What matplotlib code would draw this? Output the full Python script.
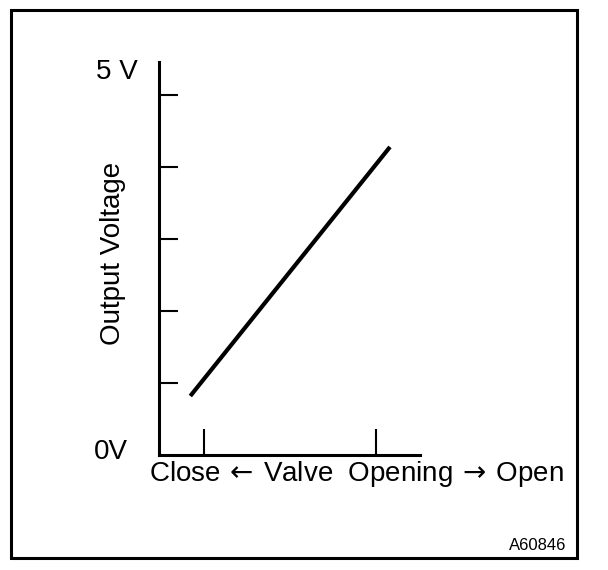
import matplotlib
matplotlib.use('Agg')
import matplotlib.pyplot as plt
from matplotlib.patches import Rectangle

# data (x: valve opening 0-100, y: tick units)
opening = [12.0, 88.5]
voltage = [0.82, 4.28]
y_ticks = [1, 2, 3, 4, 5]
x_ticks = [17.2, 83.1]

plt.rcParams['font.family'] = ['Liberation Sans', 'DejaVu Sans']
plt.rcParams['mathtext.fontset'] = 'dejavusans'

fig = plt.figure(figsize=(6.08, 5.70), dpi=100)

# outer frame
fig.patches.append(Rectangle((11 / 608, 1 - 558 / 570), 566 / 608, 548 / 570,
                             transform=fig.transFigure, fill=False,
                             edgecolor='black', linewidth=2.2))

ax = fig.add_axes([159 / 608, 1 - 455 / 570, 261 / 608, 393 / 570])
ax.plot(opening, voltage, color='black', linewidth=3, solid_capstyle='butt')

ax.set_xlim(0, 100)
ax.set_ylim(0, 5.46)
ax.set_xticks(x_ticks)
ax.set_yticks(y_ticks)
ax.set_xticklabels([])
ax.set_yticklabels([])
ax.tick_params(axis='both', direction='in', length=14, width=1.5, color='black')
ax.tick_params(axis='x', length=19)
for s in ['top', 'right']:
    ax.spines[s].set_visible(False)
for s in ['left', 'bottom']:
    ax.spines[s].set_linewidth(2.2)

fs = 20
fig.text(117 / 608, 1 - 72 / 570, '5 V', ha='center', va='center', fontsize=fs)
fig.text(111 / 608, 1 - 452 / 570, '0V', ha='center', va='center', fontsize=fs)
fig.text(113 / 608, 1 - 253 / 570, 'Output Voltage', rotation=90,
         ha='center', va='center', fontsize=fs)
fig.text(356 / 608, 1 - 474 / 570,
         r'Close$\,\leftarrow\,$Valve  Opening$\,\rightarrow\,$Open',
         ha='center', va='center', fontsize=fs)
fig.text(566 / 608, 1 - 545 / 570, 'A60846', ha='right', va='center',
         fontsize=12)

plt.savefig('out.png', dpi=100)
